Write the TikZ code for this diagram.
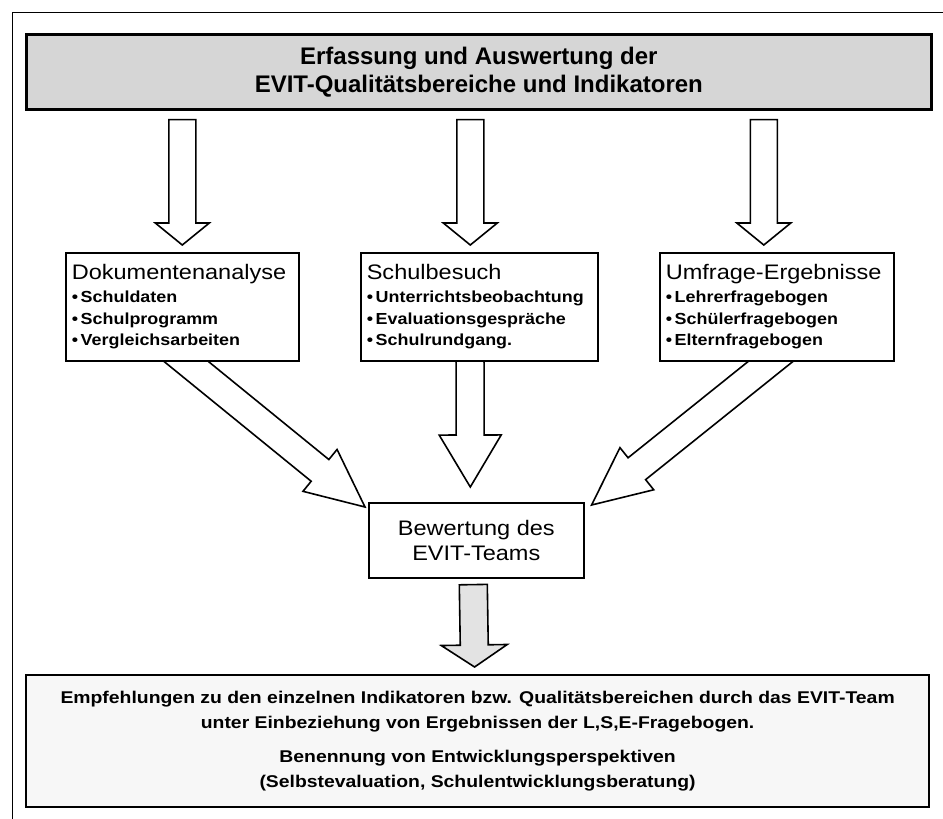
\documentclass[tikz,border=0pt]{standalone}
\usepackage{fontspec}
\setmainfont{Liberation Sans}
\newfontfamily\hdfont[FakeStretch=1.12]{Liberation Sans}
\newfontfamily\itfont[FakeStretch=1.12]{Liberation Sans}
\newfontfamily\recfont[FakeStretch=1.14]{Liberation Sans}
\usetikzlibrary{calc,backgrounds}
\newcommand{\blockarrow}[6]{%
  \coordinate (ba-h) at ($(#3)!#6!(#2)$);
  \draw[#1] ($(#2)!#4!90:(#3)$) -- ($(ba-h)!#4!90:(#3)$) -- ($(ba-h)!#5!90:(#3)$) -- (#3)
    -- ($(ba-h)!#5!-90:(#3)$) -- ($(ba-h)!#4!-90:(#3)$) -- ($(#2)!#4!-90:(#3)$) -- cycle;}
\tikzset{
  box/.style={draw=black, line width=1.6pt, fill=white, inner sep=0pt},
  itembox/.style={box, anchor=north west, align=left, inner xsep=6pt,
    font=\itfont\bfseries\fontsize{16}{21.5}\selectfont},
  arr/.style={draw=black, line width=1.6pt, fill=white, line join=miter},
  arrgray/.style={arr, fill=gray!22},
}
\newcommand{\hd}[1]{{\hdfont\mdseries\fontsize{21}{25}\selectfont #1}}
\newcommand{\itm}[1]{\textbullet\,#1}
\begin{document}
\begin{tikzpicture}[x=1pt,y=-1pt]
\useasboundingbox (0,0) rectangle (943,819);
\clip (0,0) rectangle (943,819);
% outer frame
\node[draw=black, line width=1pt, minimum width=960pt, minimum height=840pt, anchor=north west, inner sep=0pt] (frame) at (12,12) {};
% title
\node[draw=black, line width=2.6pt, fill=gray!32, anchor=north west, minimum width=905pt, minimum height=75pt, inner sep=0pt, align=center,
  font=\bfseries\fontsize{24}{28}\selectfont] (title) at (25,33)
  {Erfassung und Auswertung der\\EVIT-Qualitätsbereiche und Indikatoren};
% three boxes
\node[itembox, text width=221pt, minimum height=108pt] (b1) at (65,252)
  {\hd{Dokumentenanalyse}\\[2pt]\itm{Schuldaten}\\\itm{Schulprogramm}\\\itm{Vergleichsarbeiten}};
\node[itembox, text width=225pt, minimum height=108pt] (b2) at (360,252)
  {\hd{Schulbesuch}\\[2pt]\itm{Unterrichtsbeobachtung}\\\itm{Evaluationsgespräche}\\\itm{Schulrundgang.}};
\node[itembox, text width=222pt, minimum height=108pt] (b3) at (659,252)
  {\hd{Umfrage-Ergebnisse}\\[2pt]\itm{Lehrerfragebogen}\\\itm{Schülerfragebogen}\\\itm{Elternfragebogen}};
% Bewertung
\node[box, anchor=north west, minimum width=215pt, minimum height=75pt, align=center,
  font=\hdfont\fontsize{21}{25}\selectfont] (bew) at (368,502)
  {Bewertung des\\EVIT-Teams};
% bottom box
\node[box, line width=2.2pt, anchor=north west, minimum width=903pt, minimum height=132pt, align=center, fill=gray!6,
  font=\recfont\bfseries\fontsize{17}{24.5}\selectfont] (rec) at (25,674)
  {Empfehlungen zu den einzelnen Indikatoren bzw. Qualitätsbereichen durch das EVIT-Team\\
   unter Einbeziehung von Ergebnissen der L,S,E-Fragebogen.\\[10pt]
   Benennung von Entwicklungsperspektiven\\
   (Selbstevaluation, Schulentwicklungsberatung)};
% connector end points
\coordinate (t1s) at ([yshift=-9pt]title.south -| b1.north);
\coordinate (t1e) at ([yshift=7pt]b1.north);
\coordinate (t2s) at ([xshift=-9pt,yshift=-9pt]title.south -| b2.north);
\coordinate (t2e) at ([xshift=-9pt,yshift=7pt]b2.north);
\coordinate (t3s) at ([xshift=-13pt,yshift=-9pt]title.south -| b3.north);
\coordinate (t3e) at ([xshift=-13pt,yshift=7pt]b3.north);
\coordinate (d1s) at (163.5,343);
\coordinate (d1e) at ([shift={(-3pt,-5pt)}]bew.north west);
\coordinate (d2s) at (470,340);
\coordinate (d2e) at ([xshift=-6pt,yshift=15pt]bew.north);
\coordinate (d3s) at (793.6,343);
\coordinate (d3e) at ([shift={(7pt,-3pt)}]bew.north east);
\coordinate (bs) at ([xshift=-3pt,yshift=-6pt]bew.south);
\coordinate (be) at ([xshift=-3pt,yshift=7pt]rec.north);
% arrows title -> boxes
\blockarrow{arr}{t1s}{t1e}{13.5pt}{27pt}{22pt}
\blockarrow{arr}{t2s}{t2e}{13.5pt}{27pt}{22pt}
\blockarrow{arr}{t3s}{t3e}{13.5pt}{27pt}{22pt}
% arrows boxes -> Bewertung (behind the boxes)
\begin{pgfonlayer}{background}
\fill[white] (0,0) rectangle (943,819);
\blockarrow{arr}{d1s}{d1e}{14pt}{27pt}{58pt}
\blockarrow{arr}{d2s}{d2e}{14pt}{31pt}{52pt}
\blockarrow{arr}{d3s}{d3e}{14pt}{27pt}{58pt}
\end{pgfonlayer}
% arrow Bewertung -> recommendations
\blockarrow{arrgray}{bs}{be}{14pt}{33pt}{22pt}
\end{tikzpicture}
\end{document}
